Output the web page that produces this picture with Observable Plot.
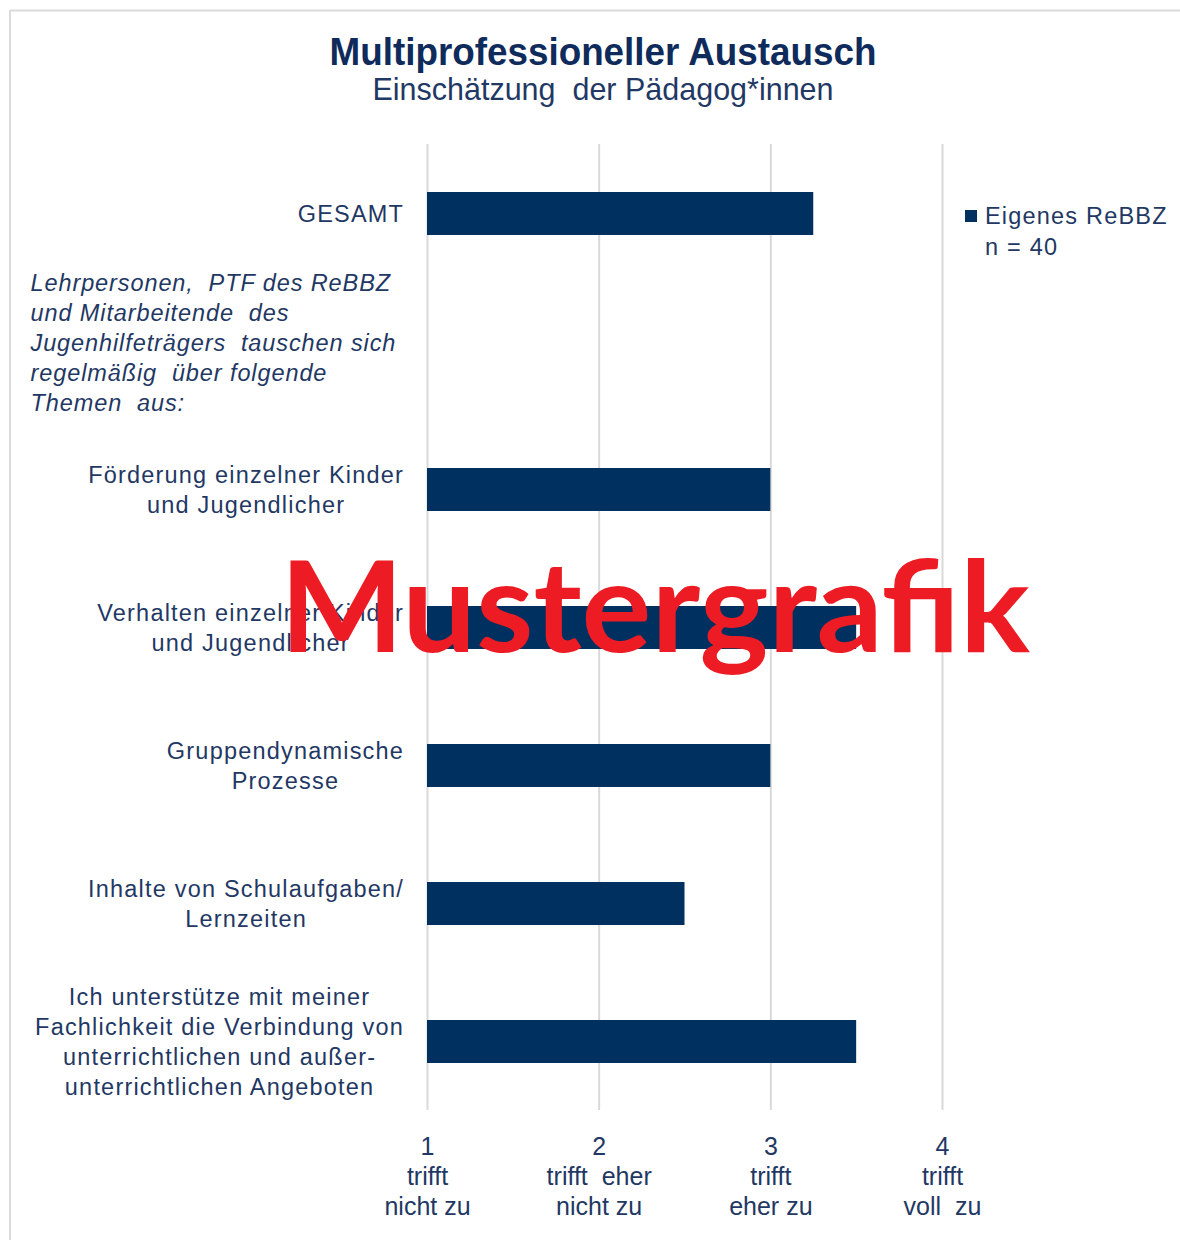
<!DOCTYPE html>
<html><head><meta charset="utf-8">
<script src="https://cdn.jsdelivr.net/npm/d3@7"></script>
<script src="https://cdn.jsdelivr.net/npm/@observablehq/plot@0.6"></script>
<style>
html,body{margin:0;padding:0;background:#fff;}
#wrap{position:relative;width:1180px;height:1240px;overflow:hidden;background:#fff;}
#wrap svg{position:absolute;left:0;top:0;}
#wrap svg.chart g[aria-label="text"]{letter-spacing:1.2px;}
#overlay{pointer-events:none;}
#overlay text{white-space:pre;}
</style></head><body><div id="wrap"></div>
<script>
// ---- data ----
const categories = ["GESAMT", "INTRO", "Foerderung", "Verhalten", "Gruppen", "Inhalte", "Verbindung"];
const categoryLabels = [
  "GESAMT",
  "Lehrpersonen,  PTF des ReBBZ\nund Mitarbeitende  des\nJugenhilfeträgers  tauschen sich\nregelmäßig  über folgende\nThemen  aus:",
  "Förderung einzelner Kinder\nund Jugendlicher",
  "Verhalten einzelner Kinder\nund Jugendlicher",
  "Gruppendynamische\nProzesse",
  "Inhalte von Schulaufgaben/\nLernzeiten",
  "Ich unterstütze mit meiner\nFachlichkeit die Verbindung von\nunterrichtlichen und außer-\nunterrichtlichen Angeboten"
];
const values = [3.25, null, 3.0, 3.5, 3.0, 2.5, 3.5];
const baseline = 1;
const tickValues = [1, 2, 3, 4];
const tickLabels = ["1\ntrifft\nnicht zu", "2\ntrifft  eher\nnicht zu", "3\ntrifft\neher zu", "4\ntrifft\nvoll  zu"];
const seriesName = "Eigenes ReBBZ";
const sampleLabel = "n = 40";
const titleText = "Multiprofessioneller Austausch";
const subtitleText = "Einschätzung  der Pädagog*innen";
const watermarkText = "Mustergrafik";

// ---- styles ----
const barColor = "#00305f";
const textColor = "#1f3864";
const fontFam = "'Liberation Sans', Arial, sans-serif";
const labelSize = 23.5, labelLS = 1.2, labelLH = 30;
const W = 1180, H = 1240;
const mLeft = 427, mRight = 238, mTop = 144, mBottom = 130;
const labelRight = 403;

const rows = categories.map((c, i) => ({cat: c, label: categoryLabels[i], value: values[i]}));

// measure text widths for centred label blocks
const ctx = document.createElement("canvas").getContext("2d");
ctx.font = `${labelSize}px 'Liberation Sans'`;
function blockWidth(s) {
  return d3.max(s.split("\n"), l => ctx.measureText(l).width + labelLS * (l.length - 1));
}

const labelMarks = rows.filter(r => r.cat !== "INTRO").map(r =>
  Plot.text([r], {
    y: "cat", text: "label", frameAnchor: "left", textAnchor: "middle", lineAnchor: "middle",
    dx: (labelRight - blockWidth(r.label) / 2) - mLeft, dy: -2,
    fontSize: labelSize, lineHeight: labelLH / labelSize, fill: textColor
  })
);
const introMark = Plot.text(rows.filter(r => r.cat === "INTRO"), {
  y: "cat", text: "label", frameAnchor: "left", textAnchor: "start", lineAnchor: "middle",
  dx: 30 - mLeft, dy: -11, fontStyle: "italic",
  fontSize: labelSize, lineHeight: labelLH / labelSize, fill: textColor
});

const chart = Plot.plot({
  width: W, height: H,
  marginLeft: mLeft, marginRight: mRight, marginTop: mTop, marginBottom: mBottom,
  style: {fontFamily: fontFam, background: "transparent", overflow: "visible"},
  x: {domain: [1, 4], axis: null},
  y: {domain: categories, axis: null, paddingInner: 0.69, paddingOuter: 0.345},
  marks: [
    Plot.gridX(tickValues, {stroke: "#d9d9d9", strokeOpacity: 1, strokeWidth: 2}),
    Plot.barX(rows.filter(r => r.value != null), {x1: baseline, x2: "value", y: "cat", fill: barColor}),
    Plot.axisX({ticks: tickValues, tickFormat: d => tickLabels[tickValues.indexOf(d)], tickSize: 0, tickPadding: 23,
      fontSize: 25, lineHeight: 1.2, fill: textColor, label: null, anchor: "bottom"}),
    ...labelMarks,
    introMark
  ]
});
chart.classList.add("chart");
const wrap = document.getElementById("wrap");
wrap.appendChild(chart);
// intro block uses slightly tighter spacing
d3.select(chart).selectAll('g[aria-label="text"]').filter(function() {
  return d3.select(this).attr("font-style") === "italic";
}).style("letter-spacing", "0.9px");

// ---- overlay: frame, title, legend, watermark ----
const ov = d3.select(wrap).append("svg").attr("id", "overlay").attr("width", W).attr("height", H);
ov.append("line").attr("x1", 10).attr("x2", W).attr("y1", 10.5).attr("y2", 10.5).attr("stroke", "#dadada").attr("stroke-width", 2);
ov.append("line").attr("x1", 10).attr("x2", 10).attr("y1", 10).attr("y2", H).attr("stroke", "#dadada").attr("stroke-width", 2);

ov.append("text").text(titleText).attr("x", 603).attr("y", 65).attr("text-anchor", "middle")
  .attr("font-family", "'Liberation Sans Narrow', 'Liberation Sans', Arial, sans-serif").attr("font-weight", "bold")
  .attr("font-size", 38).attr("fill", "#0f2b5b").attr("textLength", 547).attr("lengthAdjust", "spacingAndGlyphs");
ov.append("text").text(subtitleText).attr("x", 603).attr("y", 100).attr("text-anchor", "middle")
  .attr("font-family", "'Liberation Sans Narrow', 'Liberation Sans', Arial, sans-serif")
  .attr("font-size", 32).attr("fill", textColor).attr("textLength", 461).attr("lengthAdjust", "spacingAndGlyphs");

ov.append("rect").attr("x", 965).attr("y", 210).attr("width", 12).attr("height", 12).attr("fill", barColor);
ov.append("text").text(seriesName).attr("x", 985).attr("y", 224).attr("font-family", fontFam)
  .attr("font-size", labelSize).attr("letter-spacing", labelLS).attr("fill", textColor);
ov.append("text").text(sampleLabel).attr("x", 985).attr("y", 255).attr("font-family", fontFam)
  .attr("font-size", labelSize).attr("letter-spacing", labelLS).attr("fill", textColor);

ov.append("text").text(watermarkText).attr("x", 280).attr("y", 652)
  .attr("font-family", "Lato, 'Open Sans', sans-serif").attr("font-weight", "bold")
  .attr("font-size", 126).attr("fill", "#ed1c24").attr("textLength", 750).attr("lengthAdjust", "spacingAndGlyphs");
</script></body></html>
